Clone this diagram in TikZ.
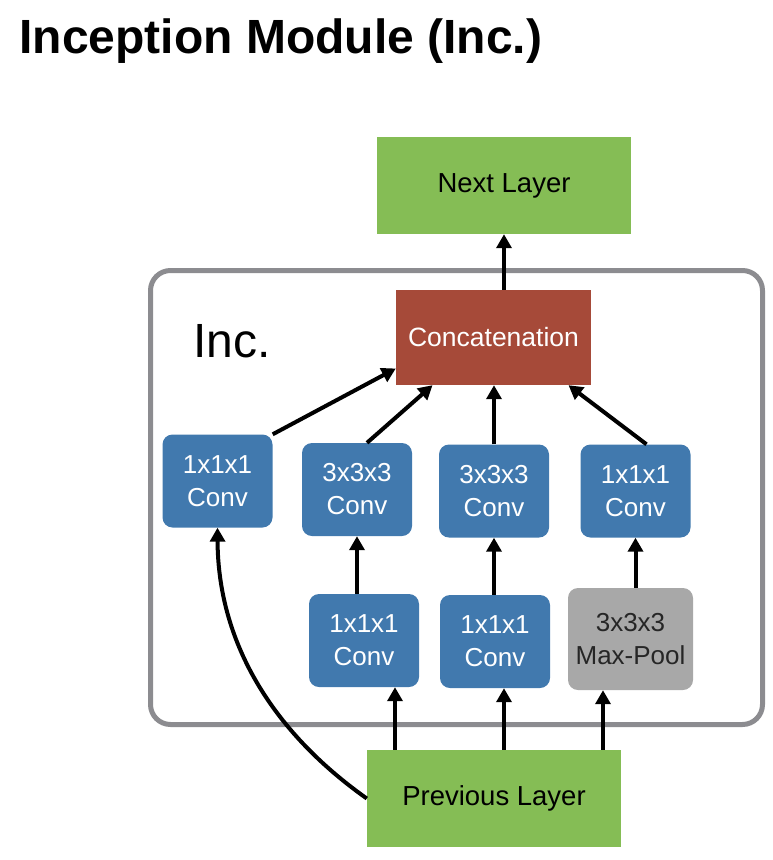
\documentclass[tikz,border=0pt]{standalone}
\usepackage{fontspec}
\setmainfont{Liberation Sans}
\usetikzlibrary{arrows.meta}

\definecolor{layergreen}{HTML}{85BD55}
\definecolor{convblue}{HTML}{4179AE}
\definecolor{concatred}{HTML}{A64A39}
\definecolor{poolgray}{HTML}{A8A8A8}
\definecolor{framegray}{HTML}{8C8C90}

\tikzset{
    layer/.style={fill=layergreen, inner sep=0pt, minimum width=254pt, minimum height=97pt,
        font=\fontsize{27.5}{32}\selectfont},
    conv/.style={fill=convblue, rounded corners=10pt, text=white, align=center, inner sep=0pt,
        minimum width=110pt, minimum height=93pt, font=\fontsize{26}{33}\selectfont},
    flow/.style={line width=4pt, -{Triangle[length=14pt,width=15pt]}},
}

\begin{document}
\begin{tikzpicture}[x=1pt,y=-1pt]
    \useasboundingbox (0,0) rectangle (772,860);

    \node[anchor=base west, font=\fontsize{48}{56}\selectfont\bfseries] (title) at (16,53) {Inception Module (Inc.)};

    % module frame
    \draw[framegray, line width=5pt, rounded corners=20pt] (150.5,270.5) rectangle (762.5,724.5);
    \node[anchor=base west, font=\fontsize{48}{56}\selectfont] (inc) at (190,357) {Inc.};

    \node[layer] (next) at (504,185.5) {Next Layer};
    \node[layer] (prev) at (494,798.5) {Previous Layer};
    \node[fill=concatred, text=white, inner sep=0pt, minimum width=195pt, minimum height=95pt,
        font=\fontsize{26.5}{30}\selectfont] (concat) at (493.5,337.5) {Concatenation};

    % upper row
    \node[conv] (conv1) at (217.5,481) {1x1x1\\Conv};
    \node[conv] (conv2) at (357,489.5) {3x3x3\\Conv};
    \node[conv] (conv3) at (494,491) {3x3x3\\Conv};
    \node[conv] (conv4) at (635.5,491) {1x1x1\\Conv};

    % lower row
    \node[conv] (reduceA) at (364,640.5) {1x1x1\\Conv};
    \node[conv] (reduceB) at (495,641.5) {1x1x1\\Conv};
    \node[conv, fill=poolgray, text=black!85, minimum width=125pt, minimum height=102pt] (pool) at (630.5,639) {3x3x3\\Max-Pool};

    % into the concatenation
    \draw[flow] (concat.north -| next.south) -- (next.south);
    \draw[flow] (conv1.north east) -- ([yshift=-31pt]concat.west);
    \draw[flow] ([xshift=10pt]conv2.north) -- ([xshift=-61pt]concat.south);
    \draw[flow] (conv3.north) -- (conv3.north |- concat.south);
    \draw[flow] ([xshift=11pt]conv4.north) -- ([xshift=75pt]concat.south);

    % between the rows
    \draw[flow] (conv2.south |- reduceA.north) -- (conv2.south);
    \draw[flow] (conv3.south |- reduceB.north) -- (conv3.south);
    \draw[flow] (conv4.south |- pool.north) -- (conv4.south);

    % from the previous layer
    \draw[flow] ([xshift=-99pt]prev.north) -- ([xshift=31pt]reduceA.south);
    \draw[flow] ([xshift=10pt]prev.north) -- ([xshift=9pt]reduceB.south);
    \draw[flow] ([xshift=109pt]prev.north) -- ([xshift=-27.5pt]pool.south);
    \draw[flow] (prev.west) .. controls (270,730) and (218,640) .. (conv1.south);
\end{tikzpicture}
\end{document}
